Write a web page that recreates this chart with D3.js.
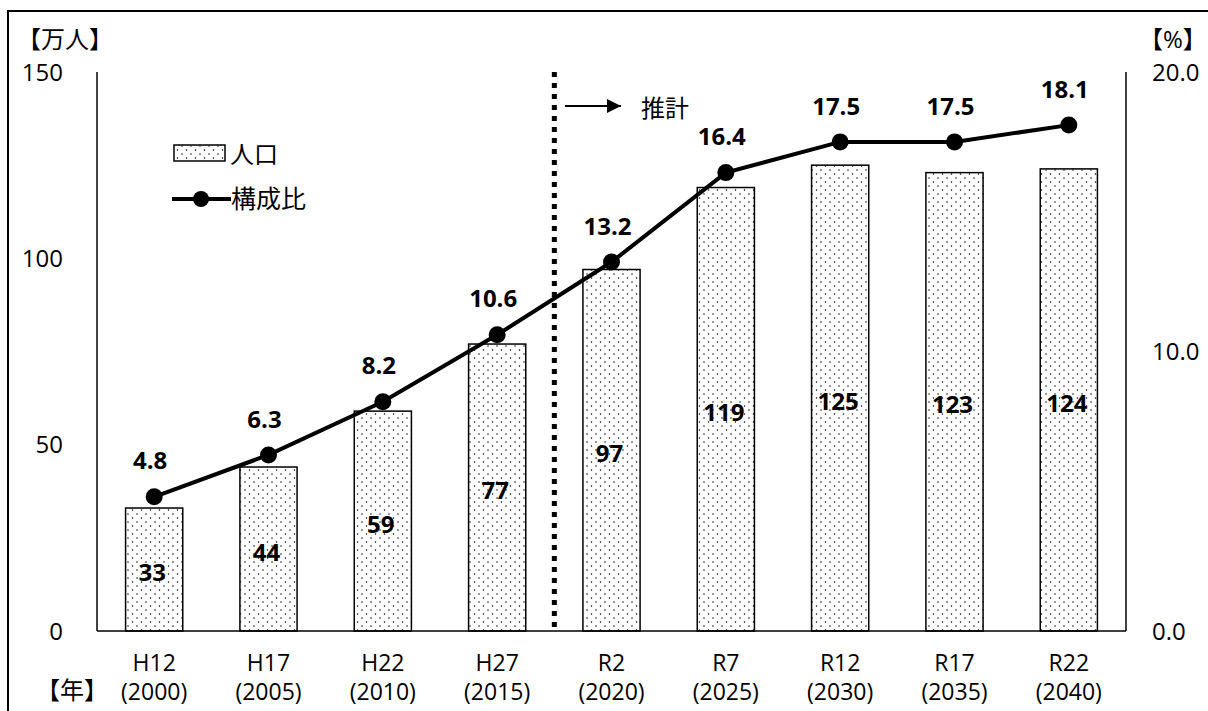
<!DOCTYPE html>
<html>
<head>
<meta charset="utf-8">
<script src="https://cdn.jsdelivr.net/npm/d3@7"></script>
<style>
  body { margin: 0; background: #fff; }
  svg { display: block; font-family: "Open Sans", "Noto Sans CJK JP", sans-serif; }
</style>
</head>
<body>
<svg width="1208" height="711"></svg>
<script>
var years = ["H12", "H17", "H22", "H27", "R2", "R7", "R12", "R17", "R22"];
var westernYears = ["(2000)", "(2005)", "(2010)", "(2015)", "(2020)", "(2025)", "(2030)", "(2035)", "(2040)"];
var population = [33, 44, 59, 77, 97, 119, 125, 123, 124];
var ratio = [4.8, 6.3, 8.2, 10.6, 13.2, 16.4, 17.5, 17.5, 18.1];
var leftTicks = [0, 50, 100, 150];
var rightTicks = [0, 10, 20];

var svg = d3.select("svg");

// outer frame
svg.append("rect")
  .attr("x", 8).attr("y", 11)
  .attr("width", 1210).attr("height", 720)
  .attr("fill", "none").attr("stroke", "#000").attr("stroke-width", 2);

var pLeft = 97, pRight = 1126, pTop = 72, pBottom = 631;

var x = d3.scaleBand().domain(years).range([pLeft, pRight]).paddingInner(0.5).paddingOuter(0.25);
var yL = d3.scaleLinear().domain([0, 150]).range([pBottom, pTop]);
var yR = d3.scaleLinear().domain([0, 20]).range([pBottom, pTop]);

// dot pattern
var defs = svg.append("defs");
var pat = defs.append("pattern")
  .attr("id", "dots").attr("patternUnits", "userSpaceOnUse")
  .attr("width", 9).attr("height", 8);
pat.append("rect").attr("width", 9).attr("height", 8).attr("fill", "#fff");
pat.append("circle").attr("cx", 2).attr("cy", 2).attr("r", 0.75).attr("fill", "#000");
pat.append("circle").attr("cx", 6.5).attr("cy", 6).attr("r", 0.75).attr("fill", "#000");

// axes lines
svg.append("line").attr("x1", pLeft).attr("x2", pLeft).attr("y1", pTop).attr("y2", pBottom)
  .attr("stroke", "#000").attr("stroke-width", 1.5);
svg.append("line").attr("x1", pRight).attr("x2", pRight).attr("y1", pTop).attr("y2", pBottom)
  .attr("stroke", "#000").attr("stroke-width", 1.5);

// left tick labels
svg.selectAll(".lt").data(leftTicks).enter().append("text")
  .attr("x", 63).attr("y", function(d) { return yL(d); })
  .attr("dy", "0.36em").attr("text-anchor", "end")
  .attr("font-size", 24).text(function(d) { return d; });

// right tick labels
svg.selectAll(".rt").data(rightTicks).enter().append("text")
  .attr("x", 1152).attr("y", function(d) { return yR(d); })
  .attr("dy", "0.36em").attr("text-anchor", "start")
  .attr("font-size", 24).text(function(d) { return d.toFixed(1); });

svg.append("text").attr("x", 17).attr("y", 48).attr("font-size", 24).text("【万人】");
svg.append("text").attr("x", 1139).attr("y", 48).attr("font-size", 24).text("【%】");
svg.append("text").attr("x", 36).attr("y", 699).attr("font-size", 24).text("【年】");

// bars
svg.selectAll(".bar").data(population).enter().append("rect")
  .attr("x", function(d, i) { return x(years[i]); })
  .attr("width", x.bandwidth())
  .attr("y", function(d) { return yL(d); })
  .attr("height", function(d) { return yL(0) - yL(d); })
  .attr("fill", "url(#dots)").attr("stroke", "#000").attr("stroke-width", 1.5);

// baseline
svg.append("line").attr("x1", pLeft).attr("x2", pRight).attr("y1", pBottom).attr("y2", pBottom)
  .attr("stroke", "#000").attr("stroke-width", 1.5);

// bar labels
svg.selectAll(".bl").data(population).enter().append("text")
  .attr("x", function(d, i) { return x(years[i]) + x.bandwidth() / 2 - 2; })
  .attr("y", function(d) { return (yL(d) + yL(0)) / 2 + 3; })
  .attr("dy", "0.36em").attr("text-anchor", "middle")
  .attr("font-size", 24).attr("font-weight", "bold")
  .text(function(d) { return d; });

// x labels
var cx = function(i) { return x(years[i]) + x.bandwidth() / 2; };
svg.selectAll(".xl1").data(years).enter().append("text")
  .attr("x", function(d, i) { return cx(i); }).attr("y", 671)
  .attr("text-anchor", "middle").attr("font-size", 23).text(function(d) { return d; });
svg.selectAll(".xl2").data(westernYears).enter().append("text")
  .attr("x", function(d, i) { return cx(i); }).attr("y", 700)
  .attr("text-anchor", "middle").attr("font-size", 23).text(function(d) { return d; });

// projection divider
var divX = x.step() * 4 + pLeft;
svg.append("line").attr("x1", divX).attr("x2", divX).attr("y1", pTop).attr("y2", pBottom)
  .attr("stroke", "#000").attr("stroke-width", 5).attr("stroke-dasharray", "5,6");
defs.append("marker").attr("id", "arr").attr("viewBox", "0 0 10 10")
  .attr("refX", 10).attr("refY", 5).attr("markerWidth", 16).attr("markerHeight", 14)
  .attr("markerUnits", "userSpaceOnUse").attr("orient", "auto")
  .append("path").attr("d", "M0,0L10,5L0,10Z").attr("fill", "#000");
svg.append("line").attr("x1", 565).attr("x2", 621).attr("y1", 106).attr("y2", 106)
  .attr("stroke", "#000").attr("stroke-width", 2).attr("marker-end", "url(#arr)");
svg.append("text").attr("x", 641).attr("y", 117).attr("font-size", 24).text("推計");

// line series
var line = d3.line()
  .x(function(d, i) { return cx(i); })
  .y(function(d) { return yR(d); });
svg.append("path").datum(ratio).attr("d", line)
  .attr("fill", "none").attr("stroke", "#000").attr("stroke-width", 4);
svg.selectAll(".pt").data(ratio).enter().append("circle")
  .attr("cx", function(d, i) { return cx(i); })
  .attr("cy", function(d) { return yR(d); })
  .attr("r", 8.5).attr("fill", "#000");
svg.selectAll(".pl").data(ratio).enter().append("text")
  .attr("x", function(d, i) { return cx(i) - 4; })
  .attr("y", function(d) { return yR(d) - 36; })
  .attr("dy", "0.36em").attr("text-anchor", "middle")
  .attr("font-size", 24).attr("font-weight", "bold")
  .text(function(d) { return d.toFixed(1); });

// legend
svg.append("rect").attr("x", 174).attr("y", 145).attr("width", 51).attr("height", 16)
  .attr("fill", "url(#dots)").attr("stroke", "#000").attr("stroke-width", 1.5);
svg.append("text").attr("x", 230).attr("y", 163).attr("font-size", 24).text("人口");
svg.append("line").attr("x1", 172).attr("x2", 231).attr("y1", 199).attr("y2", 199)
  .attr("stroke", "#000").attr("stroke-width", 4);
svg.append("circle").attr("cx", 201).attr("cy", 199).attr("r", 8).attr("fill", "#000");
svg.append("text").attr("x", 231).attr("y", 208).attr("font-size", 25).text("構成比");
</script>
</body>
</html>
